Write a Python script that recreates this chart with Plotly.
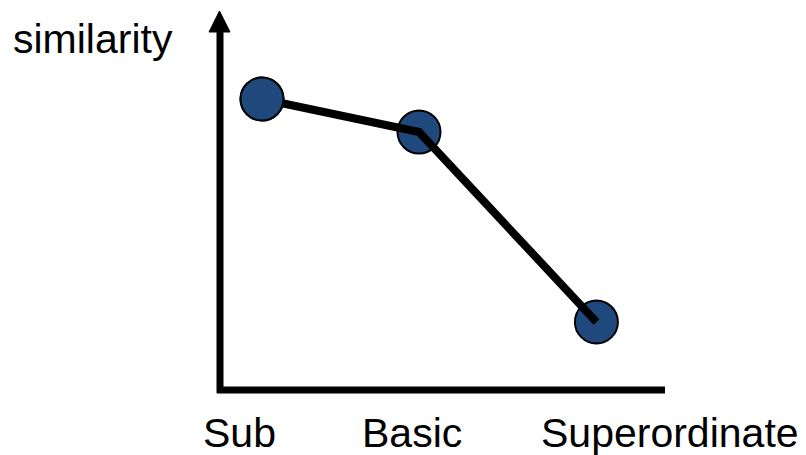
import plotly.graph_objects as go

# Data
categories = ["Sub", "Basic", "Superordinate"]
x_positions = [1.0, 2.0, 3.13]
similarity = [9.7, 8.6, 2.27]
y_label = "similarity"

W, H = 806, 455
FONT = "Liberation Sans, Arial, Helvetica, sans-serif"
marker_color = "#1F497D"

def px(x):
    return x / W

def py(y):
    return 1 - y / H

fig = go.Figure()

# markers (all)
fig.add_trace(go.Scatter(
    x=x_positions, y=similarity, mode="markers",
    marker=dict(size=43, color=marker_color, line=dict(color="black", width=2)),
    hoverinfo="skip", showlegend=False))
# connecting line on top
fig.add_trace(go.Scatter(
    x=x_positions, y=similarity, mode="lines",
    line=dict(color="black", width=8),
    hoverinfo="skip", showlegend=False))
# first marker redrawn above the line
fig.add_trace(go.Scatter(
    x=x_positions[:1], y=similarity[:1], mode="markers",
    marker=dict(size=43, color=marker_color, line=dict(color="black", width=2)),
    hoverinfo="skip", showlegend=False))

shapes = [
    # y axis
    dict(type="line", xref="paper", yref="paper",
         x0=px(220), x1=px(220), y0=py(393), y1=py(30),
         line=dict(color="black", width=7)),
    # arrowhead
    dict(type="path", xref="paper", yref="paper",
         path=f"M {px(219.5)} {py(11)} L {px(209)} {py(32)} L {px(230)} {py(32)} Z",
         fillcolor="black", line=dict(color="black", width=1)),
    # x axis
    dict(type="line", xref="paper", yref="paper",
         x0=px(217), x1=px(665), y0=py(390), y1=py(390),
         line=dict(color="black", width=7)),
]

label_x = [240, 412, 670]
annotations = [
    dict(text=y_label, xref="paper", yref="paper", x=px(92.5), y=py(39),
         xanchor="center", yanchor="middle", showarrow=False,
         font=dict(family=FONT, size=41, color="black"))
]
for cat, lx in zip(categories, label_x):
    annotations.append(dict(text=cat, xref="paper", yref="paper", x=px(lx), y=py(433),
                            xanchor="center", yanchor="middle", showarrow=False,
                            font=dict(family=FONT, size=41, color="black")))

# axis ranges so that 1 unit in x = 157 px, 1 unit in y = 30 px
x0_px, xscale = 262, 157
y0_px, yscale = 390, 30
fig.update_layout(
    width=W, height=H,
    margin=dict(l=0, r=0, t=0, b=0),
    paper_bgcolor="white", plot_bgcolor="white",
    xaxis=dict(range=[1 - x0_px / xscale, 1 + (W - x0_px) / xscale],
               visible=False, fixedrange=True),
    yaxis=dict(range=[(y0_px - H) / yscale, y0_px / yscale],
               visible=False, fixedrange=True),
    shapes=shapes, annotations=annotations,
)

fig.write_html("out.html", config={"displayModeBar": False},
               post_script="document.body.style.margin='0';document.body.style.overflow='hidden';")
